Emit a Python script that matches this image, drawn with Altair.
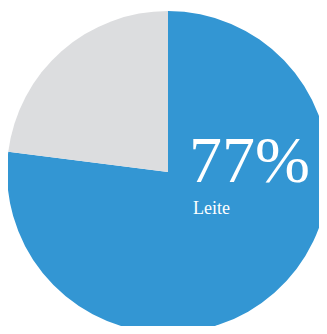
import altair as alt
import pandas as pd

categories = ["Leite", "Outros"]
values = [77, 23]
colors = ["#3396d3", "#dcdddf"]
big_label = ["77%"]
small_label = ["Leite"]

df = pd.DataFrame({"cat": categories, "val": values, "order": [0, 1]})

pie = alt.Chart(df).mark_arc(radius=161, stroke=None).encode(
    theta=alt.Theta("val:Q", stack=True),
    color=alt.Color("cat:N", scale=alt.Scale(domain=categories, range=colors), legend=None),
    order=alt.Order("order:Q"),
    x=alt.value(160),
    y=alt.value(164),
)

big = alt.Chart(pd.DataFrame({"t": big_label})).mark_text(
    font="Liberation Serif", fontSize=66, color="white", align="left", baseline="alphabetic"
).encode(text="t:N", x=alt.value(181), y=alt.value(174))

small = alt.Chart(pd.DataFrame({"t": small_label})).mark_text(
    font="Liberation Serif", fontSize=18, color="white", align="left", baseline="alphabetic"
).encode(text="t:N", x=alt.value(185), y=alt.value(206))

chart = alt.layer(pie, big, small).properties(
    width=311, height=318, padding=0, autosize=alt.AutoSizeParams(type="none")
).configure_view(stroke=None)

chart.save("out.html", embed_options={"renderer": "svg", "actions": False})
